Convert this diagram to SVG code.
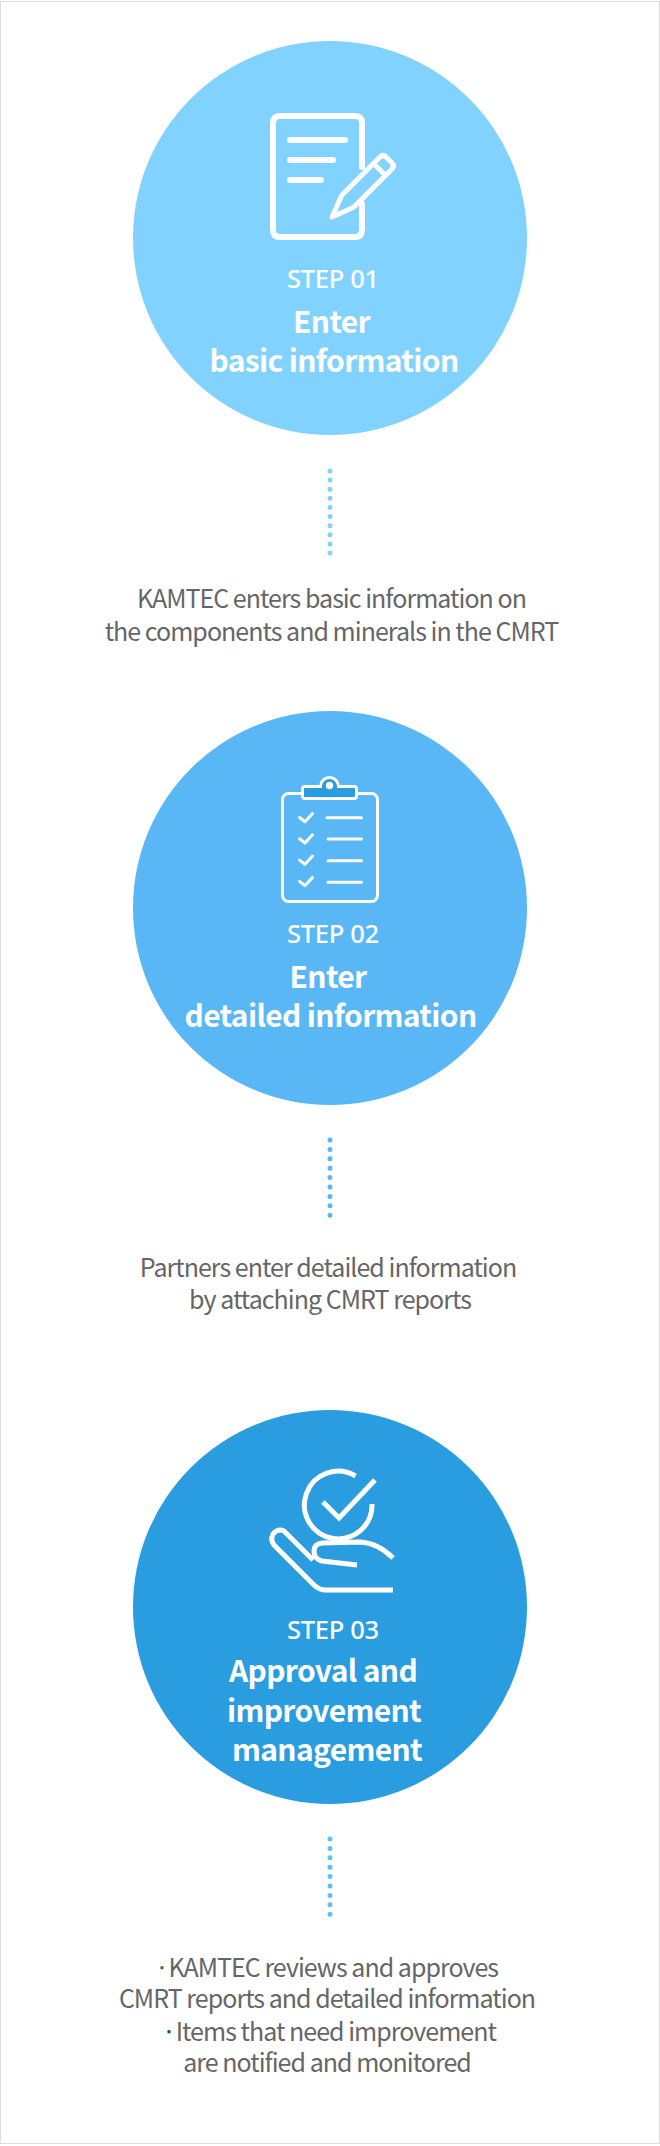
<svg xmlns="http://www.w3.org/2000/svg" width="660" height="2146" viewBox="0 0 660 2146">
<style>
.bg{fill:#fff;stroke:#ddd;stroke-width:1}
.step{font-family:"Noto Sans","Liberation Sans",sans-serif;font-size:25.5px;font-weight:500;letter-spacing:-.3px;fill:#fff;text-anchor:middle}
.title{font-family:"Noto Sans CJK KR","Noto Sans",sans-serif;font-size:30px;font-weight:700;letter-spacing:-.65px;fill:#fff;text-anchor:middle}
.desc{font-family:"Noto Sans CJK KR","Noto Sans",sans-serif;font-size:25px;font-weight:400;letter-spacing:-.97px;fill:#666;text-anchor:middle}
.ic{fill:none;stroke:#fff;stroke-linecap:round;stroke-linejoin:round}
.ih{fill:none;stroke:#fff;stroke-width:5}
.dots{fill:none;stroke-width:5;stroke-linecap:round}
</style>
<rect class="bg" x=".5" y="1.500" width="659" height="2142"/>
<g id="connectors">
<path class="dots" stroke="#82d2ff" stroke-dasharray="0 9.11" d="M330 471V553.100"/>
<path class="dots" stroke="#59b7f5" stroke-dasharray="0 9.400" d="M330 1140V1215.300"/>
<path class="dots" stroke="#5fc0f5" stroke-dasharray="0 9.400" d="M330 1839V1914.300"/>
</g>
<g id="step1">
<circle cx="330" cy="238" r="197" fill="#82d2ff"/>
<g class="ic" stroke-width="6">
<path d="M362 167V123Q362 116 355 116H280Q273 116 273 123V230Q273 237 280 237H355Q362 237 362 230V204"/>
<path d="M290 140H345M290 160H333M290 180H321"/>
<path stroke-width="5" d="M342 195L380 157Q383 154 386 157L392 163Q395 166 392 169L356 205Q354 207 352 208L332 217L341 197ZM375 165L385 175"/>
</g>
<text class="step" x="333" y="288">STEP 01</text>
<text class="title" x="331.500" y="333">Enter</text>
<text class="title" x="334" y="372">basic information</text>
</g>
<g id="desc1">
<text class="desc" x="331.500" y="608">KAMTEC enters basic information on</text>
<text class="desc" x="331.500" y="641">the components and minerals in the CMRT</text>
</g>
<g id="step2">
<circle cx="330" cy="908" r="197" fill="#59b7f5"/>
<rect class="ic" x="282.500" y="793.500" width="95" height="108" rx="6" stroke-width="3"/>
<path d="M305 786.500H320.500A9 9 0 0 1 338.500 786.500H354Q356.500 786.500 356.500 789V796Q356.500 798.500 354 798.500H305Q302.500 798.500 302.500 796V789Q302.500 786.500 305 786.500Z" fill="#2a9de0" stroke="#fff" stroke-width="3"/>
<circle cx="329.500" cy="785.500" r="3.700" fill="#fff"/>
<g class="ic" stroke-width="3">
<path d="M299.500 817.500L305 821.700L312.500 813.500M299.500 838.800L305 843L312.500 834.800M299.500 860.100L305 864.300L312.500 856.100M299.500 881.400L305 885.600L312.500 877.400"/>
<path d="M327 817.700H361.500M328 839H361.500M328 860.700H361.500M328 882.300H361.500"/>
</g>
<text class="step" x="333" y="943">STEP 02</text>
<text class="title" x="328" y="988">Enter</text>
<text class="title" x="330.500" y="1027">detailed information</text>
</g>
<g id="desc2">
<text class="desc" x="328" y="1277">Partners enter detailed information</text>
<text class="desc" x="330" y="1309">by attaching CMRT reports</text>
</g>
<g id="step3">
<circle cx="330" cy="1607" r="197" fill="#2a9de0"/>
<path class="ih" d="M355.500 1476A33.800 33.800 0 1 0 372 1504"/>
<path class="ih" d="M323 1502L339 1518L375 1480"/>
<path class="ih" d="M393 1558Q378 1543 360 1542L322 1543Q314 1544 314 1551Q314 1559 322 1561L357 1565"/>
<path class="ih" d="M393 1590H326Q319 1590 314 1585L274 1545Q270 1540 273 1534Q278 1528 284 1531L313 1560"/>
<text class="step" x="333" y="1639">STEP 03</text>
<text class="title" x="323" y="1682">Approval and</text>
<text class="title" x="324" y="1722">improvement</text>
<text class="title" x="327" y="1761">management</text>
</g>
<g id="desc3">
<text class="desc" x="326.500" y="1977">·<tspan dx="-4"> KAMTEC reviews and approves</tspan></text>
<text class="desc" x="327" y="2008">CMRT reports and detailed information</text>
<text class="desc" x="329" y="2041"><tspan fill="#0a4ea0">·</tspan><tspan dx="-4"> Items that need improvement</tspan></text>
<text class="desc" x="327" y="2072">are notified and monitored</text>
</g>
</svg>
